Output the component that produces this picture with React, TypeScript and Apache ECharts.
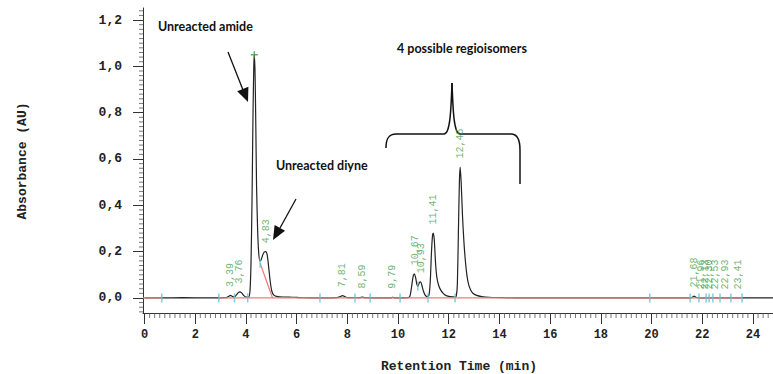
import React, { useEffect, useRef } from "react";
import * as echarts from "echarts";

// ---- data ----
const xTickLabels = [0, 2, 4, 6, 8, 10, 12, 14, 16, 18, 20, 22, 24];
const yTickLabels = [0, 0.2, 0.4, 0.6, 0.8, 1.0, 1.2];

// chromatogram trace: [retention time (min), absorbance (AU)]
const trace: [number, number][] = [
  [0, 0], [0.7, 0], [1.5, 0.001], [2.5, 0], [3.2, 0.001], [3.3, 0.006], [3.39, 0.011],
  [3.47, 0.006], [3.55, 0.004], [3.63, 0.014], [3.7, 0.023], [3.76, 0.026], [3.83, 0.022],
  [3.92, 0.01], [4.0, 0.004], [4.1, 0.004], [4.16, 0.03], [4.2, 0.15], [4.24, 0.42],
  [4.28, 0.8], [4.31, 1.0], [4.33, 1.05], [4.36, 0.97], [4.39, 0.74], [4.42, 0.48],
  [4.46, 0.3], [4.5, 0.2], [4.55, 0.16], [4.6, 0.165], [4.66, 0.185], [4.72, 0.198],
  [4.78, 0.2], [4.84, 0.185], [4.9, 0.13], [4.96, 0.07], [5.02, 0.03], [5.1, 0.012],
  [5.25, 0.006], [5.5, 0.004], [5.85, 0.003], [6.2, 0.001], [7.0, 0], [7.6, 0.001],
  [7.72, 0.006], [7.81, 0.01], [7.9, 0.006], [8.0, 0.001], [8.5, 0.001], [8.59, 0.004],
  [8.68, 0.001], [9.7, 0], [9.79, 0.003], [9.88, 0], [10.4, 0.001], [10.47, 0.008],
  [10.53, 0.045], [10.59, 0.09], [10.64, 0.104], [10.69, 0.09], [10.74, 0.06],
  [10.78, 0.05], [10.84, 0.066], [10.89, 0.07], [10.94, 0.055], [11.0, 0.03],
  [11.07, 0.012], [11.14, 0.006], [11.22, 0.012], [11.27, 0.07], [11.32, 0.2],
  [11.36, 0.27], [11.39, 0.28], [11.43, 0.25], [11.48, 0.15], [11.53, 0.09],
  [11.6, 0.055], [11.68, 0.035], [11.78, 0.02], [11.9, 0.01], [12.05, 0.006],
  [12.25, 0.004], [12.3, 0.01], [12.34, 0.06], [12.38, 0.28], [12.42, 0.5],
  [12.45, 0.565], [12.49, 0.5], [12.54, 0.36], [12.6, 0.24], [12.66, 0.155],
  [12.72, 0.095], [12.78, 0.06], [12.86, 0.035], [12.95, 0.02], [13.1, 0.011],
  [13.3, 0.006], [13.6, 0.003], [14.2, 0.001], [15, 0], [19.9, 0], [21.55, 0],
  [21.62, 0.004], [21.68, 0.008], [21.75, 0.003], [21.85, 0], [24.79, 0],
];

// integrated peaks (labelled retention times) and their apex heights
const peakTimes = [3.39, 3.76, 4.83, 7.81, 8.59, 9.79, 10.67, 10.93, 11.41, 12.45,
  21.68, 21.96, 22.13, 22.3, 22.53, 22.93, 23.41];
const peakHeights = [0.011, 0.026, 0.2, 0.01, 0.004, 0.003, 0.104, 0.07, 0.28, 0.565,
  0.008, 0.0, 0.0, 0.0, 0.0, 0.0, 0.0];

// main peak apex marker
const apex: [number, number][] = [[4.33, 1.05]];

// integration start/end markers
const markerTimes = [0.68, 2.93, 3.55, 4.07, 4.56, 6.92, 8.3, 8.9, 10.08, 10.78, 11.18,
  12.25, 19.93, 21.52, 21.87, 22.15, 22.27, 22.42, 22.7, 23.13, 23.57];
const markerValues = [0, 0, 0, 0, 0.15, 0, 0, 0, 0, 0.052, 0, 0, 0, 0, 0, 0, 0, 0, 0, 0, 0];

// baseline segments (red)
const baselineA: [number, number][] = [[-0.06, 0], [0.68, 0]];
const baselineB: [number, number][] = [[2.93, 0], [23.57, 0]];
const skimLine: [number, number][] = [[4.56, 0.15], [5.05, 0]];

const fmt = (v: number, d: number) => v.toFixed(d).replace(".", ",");

export default function App() {
  const ref = useRef<HTMLDivElement>(null);
  useEffect(() => {
    document.body.style.margin = "0";
    if (!ref.current) return;
    const chart = echarts.init(ref.current, null, { renderer: "svg" });

    const xMin = -0.06, xMax = 24.79, yMin = -0.065, yMax = 1.252;
    // minor tick positions: 10 subdivisions between labelled ticks
    const xMinor: number[] = [];
    for (let i = 0; i < xTickLabels.length; i++) {
      for (let k = 1; k < 10; k++) {
        const v = +(xTickLabels[i] + (k * 2) / 10).toFixed(2);
        if (v <= xMax) xMinor.push(v);
      }
    }
    const yMinor: number[] = [];
    for (let i = -3; i <= 62; i++) {
      if (i % 10 !== 0) yMinor.push(+(i * 0.02).toFixed(2));
    }

    const mono = "Liberation Mono";
    const annFont = "Lato";
    const ink = "#111";

    chart.setOption({
      animation: false,
      backgroundColor: "#fff",
      grid: { left: 143, right: 0, top: 8, bottom: 61 },
      xAxis: {
        type: "value", min: xMin, max: xMax,
        axisLine: { show: true, onZero: false, lineStyle: { color: "#333", width: 1 } },
        axisTick: { show: true, length: 11, customValues: xTickLabels, lineStyle: { color: "#333" } },
        axisLabel: {
          customValues: xTickLabels, margin: 16, formatter: (v: number) => String(v),
          fontFamily: mono, fontWeight: "bold", fontSize: 12, color: "#222",
        },
        splitLine: { show: false },
      },
      yAxis: {
        type: "value", min: yMin, max: yMax, position: "left",
        axisLine: { show: true, onZero: false, lineStyle: { color: "#333", width: 1 } },
        axisTick: { show: true, length: 10, customValues: yTickLabels, lineStyle: { color: "#333" } },
        axisLabel: {
          customValues: yTickLabels, margin: 21, formatter: (v: number) => fmt(v, 1),
          fontFamily: mono, fontWeight: "bold", fontSize: 13, color: "#222",
        },
        splitLine: { show: false },
      },
      series: [
        {
          type: "line", data: trace, showSymbol: false, symbol: "none", smooth: 0.25,
          lineStyle: { color: "#222", width: 1.2 }, z: 2,
        },
        {
          type: "line", data: baselineA, showSymbol: false, symbol: "none",
          lineStyle: { color: "#ee7b7b", width: 1.3 }, z: 3,
        },
        {
          type: "line", data: baselineB, showSymbol: false, symbol: "none",
          lineStyle: { color: "#ee7b7b", width: 1.3 }, z: 3,
        },
        {
          type: "line", data: skimLine, showSymbol: false, symbol: "none",
          lineStyle: { color: "#ee7b7b", width: 1.2 }, z: 3,
        },
        {
          type: "scatter", data: markerTimes.map((t, i) => [t, markerValues[i]]),
          symbol: "rect", symbolSize: [1.5, 9], itemStyle: { color: "#62c3d6" }, z: 4,
        },
        {
          type: "scatter", data: apex,
          symbol: "path://M4,0h2v4h4v2h-4v4h-2v-4h-4v-2h4z", symbolSize: 7,
          itemStyle: { color: "#3c9a3c" }, z: 5,
        },
        // minor ticks on the x axis
        {
          type: "scatter", data: xMinor.map((t) => [t, yMin]), clip: false, silent: true,
          symbol: "rect", symbolSize: [1, 5], symbolOffset: [0, 2.5],
          itemStyle: { color: "#555" }, z: 6,
        },
        // minor ticks on the y axis
        {
          type: "scatter", data: yMinor.map((v) => [xMin, v]), clip: false, silent: true,
          symbol: "rect", symbolSize: [4, 1], symbolOffset: [-2, 0],
          itemStyle: { color: "#555" }, z: 6,
        },
        {
          type: "scatter", data: peakTimes.map((t, i) => [t, peakHeights[i]]),
          symbolSize: 1, itemStyle: { color: "rgba(0,0,0,0)" }, z: 5,
          label: {
            show: true, position: "top", distance: 8, rotate: 90,
            align: "left", verticalAlign: "middle",
            formatter: (p: any) => fmt(peakTimes[p.dataIndex], 2),
            fontFamily: mono, fontSize: 10, color: "#4a9f4a",
          },
          labelLayout: { hideOverlap: false },
        },
      ],
      graphic: [
        {
          type: "text", x: 22, y: 161, rotation: Math.PI / 2, silent: true,
          style: {
            text: "Absorbance (AU)", fill: "#222", font: `bold 13px "${mono}"`,
            align: "center", verticalAlign: "middle", textAlign: "center", textVerticalAlign: "middle",
          },
        },
        {
          type: "text", x: 459, y: 366, silent: true,
          style: {
            text: "Retention Time (min)", fill: "#222", font: `bold 13px "${mono}"`,
            align: "center", verticalAlign: "middle", textAlign: "center", textVerticalAlign: "middle",
          },
        },
        {
          type: "text", x: 158, y: 26, silent: true,
          style: {
            text: "Unreacted amide", fill: ink, font: `bold 12.5px "${annFont}"`,
            align: "left", verticalAlign: "middle", textAlign: "left", textVerticalAlign: "middle",
          },
        },
        {
          type: "text", x: 276, y: 165, silent: true,
          style: {
            text: "Unreacted diyne", fill: ink, font: `bold 12.5px "${annFont}"`,
            align: "left", verticalAlign: "middle", textAlign: "left", textVerticalAlign: "middle",
          },
        },
        {
          type: "text", x: 397, y: 48, silent: true,
          style: {
            text: "4 possible regioisomers", fill: ink, font: `bold 12.5px "${annFont}"`,
            align: "left", verticalAlign: "middle", textAlign: "left", textVerticalAlign: "middle",
          },
        },
        // arrow to main peak
        { type: "line", silent: true, shape: { x1: 228, y1: 52, x2: 243, y2: 90 }, style: { stroke: ink, lineWidth: 1.3 } },
        { type: "polygon", silent: true, shape: { points: [[248, 102], [237.2, 91.2], [248.4, 86.8]] }, style: { fill: ink } },
        // arrow to diyne peak
        { type: "line", silent: true, shape: { x1: 296, y1: 199, x2: 280, y2: 228 }, style: { stroke: ink, lineWidth: 1.3 } },
        { type: "polygon", silent: true, shape: { points: [[273, 240], [274.6, 224.9], [285.1, 230.7]] }, style: { fill: ink } },
        // brace
        { type: "bezierCurve", silent: true, shape: { x1: 386, y1: 148, x2: 396, y2: 134, cpx1: 386, cpy1: 138, cpx2: 389, cpy2: 134 }, style: { stroke: ink, lineWidth: 1.5, fill: "none" } },
        { type: "line", silent: true, shape: { x1: 396, y1: 134, x2: 444, y2: 134 }, style: { stroke: ink, lineWidth: 1.5 } },
        { type: "bezierCurve", silent: true, shape: { x1: 444, y1: 134, x2: 452, y2: 83, cpx1: 450, cpy1: 134, cpx2: 451, cpy2: 112 }, style: { stroke: ink, lineWidth: 1.5, fill: "none" } },
        { type: "bezierCurve", silent: true, shape: { x1: 452, y1: 83, x2: 460, y2: 134, cpx1: 453, cpy1: 112, cpx2: 454, cpy2: 134 }, style: { stroke: ink, lineWidth: 1.5, fill: "none" } },
        { type: "line", silent: true, shape: { x1: 460, y1: 134, x2: 511, y2: 134 }, style: { stroke: ink, lineWidth: 1.5 } },
        { type: "bezierCurve", silent: true, shape: { x1: 511, y1: 134, x2: 520, y2: 150, cpx1: 517, cpy1: 134, cpx2: 520, cpy2: 140 }, style: { stroke: ink, lineWidth: 1.5, fill: "none" } },
        { type: "line", silent: true, shape: { x1: 520, y1: 150, x2: 520, y2: 184 }, style: { stroke: ink, lineWidth: 1.5 } },
      ],
    });
    return () => chart.dispose();
  }, []);
  return <div ref={ref} style={{ width: 773, height: 374, overflow: "hidden" }} />;
}
